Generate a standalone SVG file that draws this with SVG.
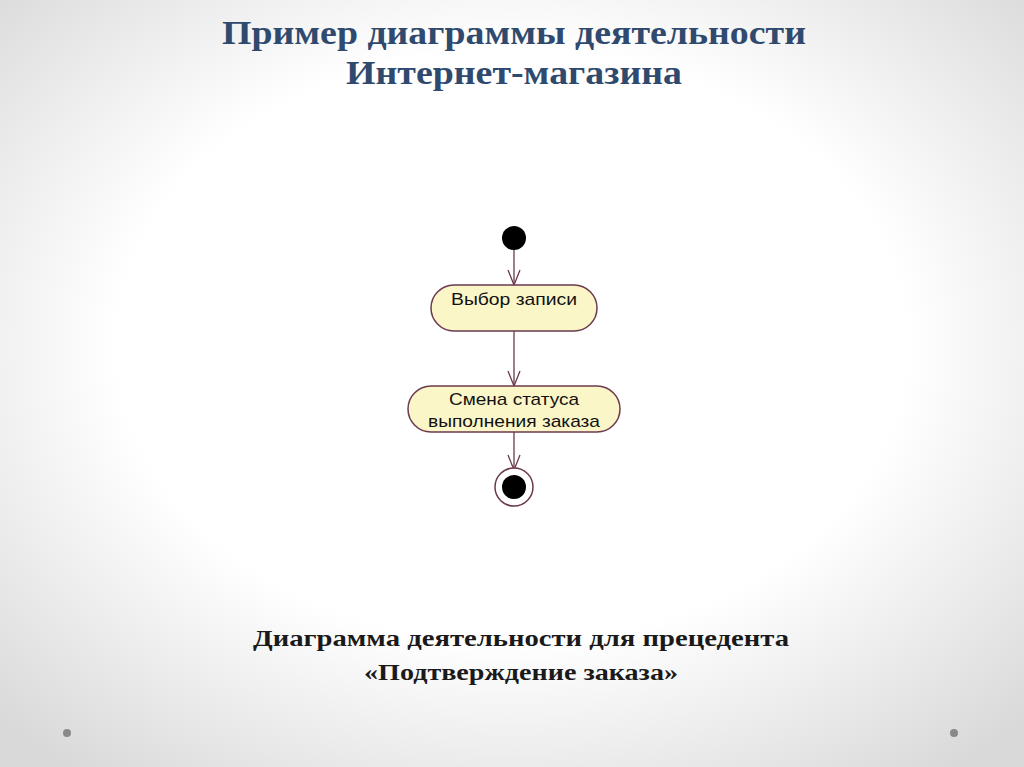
<svg xmlns="http://www.w3.org/2000/svg" width="1024" height="767" viewBox="0 0 1024 767">
<defs>
<radialGradient id="bg" cx="50%" cy="45%" r="70%">
<stop offset="0.55" stop-color="#ffffff"/><stop offset="1" stop-color="#d9d9d9"/>
</radialGradient>
<style>
.t{font-family:"Liberation Serif",serif;font-weight:bold;font-size:33px;fill:#2f4a6e;text-anchor:middle}
.c{font-family:"Liberation Serif",serif;font-weight:bold;font-size:24px;fill:#1a1a1a;text-anchor:middle}
.n{fill:#fbf6c8;stroke:#6b3a4e;stroke-width:1.5}
.l{font-family:"Liberation Sans",sans-serif;font-size:17px;fill:#111;text-anchor:middle}
.e{stroke:#6b3a4e;stroke-width:1.3;fill:none}
</style>
</defs>
<rect width="1024" height="767" fill="url(#bg)"/>
<text class="t" x="514" y="44" textLength="584" lengthAdjust="spacingAndGlyphs">Пример диаграммы деятельности</text>
<text class="t" x="514" y="84" textLength="336" lengthAdjust="spacingAndGlyphs">Интернет-магазина</text>
<g id="connectors">
<line class="e" x1="514" y1="250" x2="514" y2="285"/>
<path class="e" d="M508,270 L514,285 L520,270"/>
<line class="e" x1="514" y1="331" x2="514" y2="386"/>
<path class="e" d="M508,371 L514,386 L520,371"/>
<line class="e" x1="514" y1="432" x2="514" y2="470"/>
<path class="e" d="M508,455 L514,470 L520,455"/>
</g>
<g id="start"><circle cx="514" cy="238" r="12" fill="#000"/></g>
<g id="n1"><rect class="n" x="431" y="285" width="166" height="46" rx="23"/><text class="l" x="514" y="305" textLength="126" lengthAdjust="spacingAndGlyphs">Выбор записи</text></g>
<g id="n2"><rect class="n" x="408" y="386" width="212" height="46" rx="23"/><text class="l" x="514" y="405" textLength="130" lengthAdjust="spacingAndGlyphs">Смена статуса</text><text class="l" x="514" y="427" textLength="172" lengthAdjust="spacingAndGlyphs">выполнения заказа</text></g>
<g id="end"><circle cx="514" cy="487" r="19" fill="#fff" stroke="#6b3a4e" stroke-width="1.5"/><circle cx="514" cy="487" r="12" fill="#000"/></g>
<text class="c" x="521" y="646" textLength="536" lengthAdjust="spacingAndGlyphs">Диаграмма деятельности для прецедента</text>
<text class="c" x="521" y="680" textLength="314" lengthAdjust="spacingAndGlyphs">«Подтверждение заказа»</text>
<circle cx="67" cy="733" r="4" fill="#888"/>
<circle cx="954" cy="733" r="4" fill="#888"/>
</svg>
